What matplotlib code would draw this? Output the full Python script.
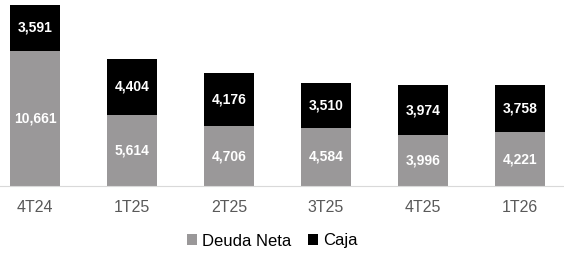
import matplotlib.pyplot as plt
import numpy as np

categories = ["4T24", "1T25", "2T25", "3T25", "4T25", "1T26"]
deuda_neta = [10661, 5614, 4706, 4584, 3996, 4221]
caja = [3591, 4404, 4176, 3510, 3974, 3758]

gray = "#9a9899"
black = "#000000"

plt.rcParams["font.family"] = ["Liberation Sans", "DejaVu Sans"]

fig = plt.figure(figsize=(5.64, 2.56), dpi=100)
ax = fig.add_axes([0, 70 / 256, 1, 183 / 256])

x = np.arange(len(categories))
width = 0.52
b1 = ax.bar(x, deuda_neta, width, color=gray, label="Deuda Neta")
b2 = ax.bar(x, caja, width, bottom=deuda_neta, color=black, label="Caja")

for i in range(len(categories)):
    ax.text(x[i], deuda_neta[i] / 2, f"{deuda_neta[i]:,}", ha="center", va="center",
            color="white", fontsize=10, fontweight="bold")
    ax.text(x[i], deuda_neta[i] + caja[i] / 2, f"{caja[i]:,}", ha="center", va="center",
            color="white", fontsize=10, fontweight="bold")

top = max(d + c for d, c in zip(deuda_neta, caja))
ax.set_ylim(0, top * 183 / 181)
ax.set_xlim(-35 / 97, (564 - 35) / 97)

for s in ["top", "right", "left"]:
    ax.spines[s].set_visible(False)
ax.spines["bottom"].set_color("#d9d9d9")
ax.set_yticks([])
ax.set_xticks(x)
ax.set_xticklabels(categories, color="#595959", fontsize=11.5)
ax.tick_params(axis="x", length=0, pad=10)

fig.legend(handles=[b1, b2], loc="center", bbox_to_anchor=(0.483, 1 - 241 / 256), ncol=2,
           frameon=False, fontsize=12, handlelength=0.6, handleheight=0.6,
           handletextpad=0.3, columnspacing=1.0)

fig.savefig("out.png", dpi=100)
